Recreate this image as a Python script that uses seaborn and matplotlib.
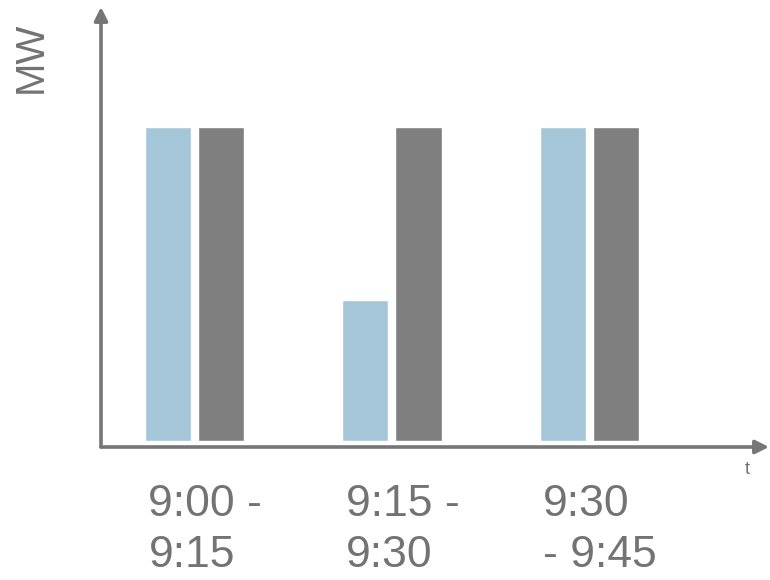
import pandas as pd
import matplotlib
matplotlib.use("Agg")
import matplotlib.pyplot as plt
import matplotlib.transforms as mtransforms
import seaborn as sns

# ── Data ───────────────────────────────────────────────
INTERVALS = ["9:00 -\n9:15", "9:15 -\n9:30", "9:30\n- 9:45"]
SERIES = ["Series 1", "Series 2"]
SERIES_1 = [1.0, 0.45, 1.0]
SERIES_2 = [1.0, 1.0, 1.0]

# ── Style ──────────────────────────────────────────────
sns.set_style("white")
plt.rcParams["font.family"] = ["Liberation Sans", "DejaVu Sans"]
BLUE = "#A5C6D9"
GRAY = "#7F7F7F"
AXIS = "#767676"
TEXT = "#737373"

df = pd.DataFrame({
    "interval": INTERVALS * 2,
    "MW": SERIES_1 + SERIES_2,
    "series": [SERIES[0]] * 3 + [SERIES[1]] * 3,
})

fig = plt.figure(figsize=(7.7, 5.8), dpi=100)
ax = fig.add_axes([101 / 770, 133 / 580, 668 / 770, 440 / 580])

sns.barplot(data=df, x="interval", y="MW", hue="series",
            palette=[BLUE, GRAY], saturation=1, width=0.538, gap=0.13,
            legend=False, ax=ax)

ax.set_xlim(-0.473, 2.91)
ax.set_ylim(-0.0191, 1.382)
for s in ax.spines.values():
    s.set_visible(False)
ax.set_yticks([])
ax.set_xlabel("")
ax.set_ylabel("")

# axes with arrow heads
arrow = dict(arrowstyle="-|>,head_length=0.8,head_width=0.4", color=AXIS, lw=2.6,
             shrinkA=0, shrinkB=0)
ax.annotate("", xy=(0, 1), xytext=(0, 0), xycoords="axes fraction",
            arrowprops=arrow, annotation_clip=False)
ax.annotate("", xy=(1, 0), xytext=(0, 0), xycoords="axes fraction",
            arrowprops=arrow, annotation_clip=False)

# tick labels, left aligned at the left bar
ax.tick_params(axis="x", length=0, pad=27, labelsize=32, labelcolor=TEXT)
offset = mtransforms.ScaledTranslation(-46 / 100, 0, fig.dpi_scale_trans)
for lbl in ax.get_xticklabels():
    lbl.set_horizontalalignment("left")
    lbl.set_multialignment("left")
    lbl.set_linespacing(1.3)
    lbl.set_transform(lbl.get_transform() + offset)

ax.text(-0.105, 0.886, "MW", transform=ax.transAxes, rotation=90,
        ha="center", va="center", fontsize=29, color=TEXT)
ax.text(0.967, -0.05, "t", transform=ax.transAxes,
        ha="center", va="center", fontsize=13, color=TEXT)

fig.savefig("out.png", dpi=100)
